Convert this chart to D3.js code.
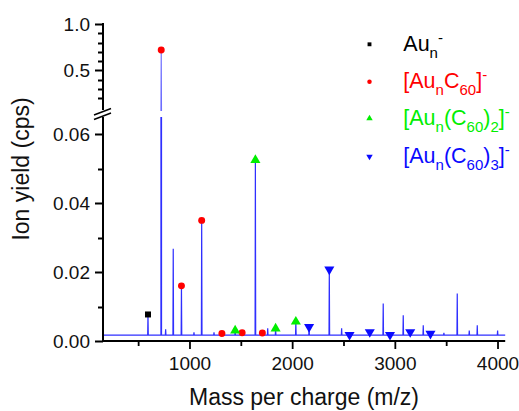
<!DOCTYPE html>
<html lang="en">
<head>
<meta charset="utf-8">
<title>Ion yield</title>
<script src="https://d3js.org/d3.v7.min.js"></script>
<style>
  body { margin: 0; background: #fff; }
  text { font-family: "Liberation Sans", Arial, sans-serif; }
</style>
</head>
<body>
<svg id="chart" width="519" height="411"></svg>
<script>
// baseline level of the spectrum (cps)
var baseline = 0.0017;

// unmarked peaks
var peakMz  = [763, 837, 1039, 1234, 1757, 2477, 2882, 3077, 3272, 3473, 3603, 3720, 3798, 3996];
var peakInt = [0.0034, 0.0268, 0.0025, 0.0025, 0.0037, 0.0037, 0.0109, 0.0075, 0.0046, 0.0024, 0.0138, 0.003, 0.0046, 0.003];

// marked series
var auMz = [591], auInt = [0.0077];
var c60Mz  = [720, 917, 1114, 1311, 1508, 1705];
var c60Int = [0.72, 0.016, 0.035, 0.0022, 0.0024, 0.0023];
var c120Mz  = [1440, 1637, 1834, 2031];
var c120Int = [0.003, 0.0525, 0.0036, 0.0056];
var c180Mz  = [2160, 2357, 2554, 2751, 2948, 3145, 3342];
var c180Int = [0.0041, 0.0208, 0.0018, 0.0026, 0.0018, 0.0026, 0.0021];

var xMajor = [1000, 2000, 3000, 4000], xMinor = [500, 1500, 2500, 3500];
var yLowMajor = [0, 0.02, 0.04, 0.06], yLowMinor = [0.01, 0.03, 0.05];
var yUpMajor = [0.5, 1.0], yUpMinor = [0.2, 0.3, 0.4, 0.6, 0.7, 0.8, 0.9];

var legendLabels = [
  [["Au", ""], ["n", "sub"], ["-", "sup"]],
  [["[Au", ""], ["n", "sub"], ["C", ""], ["60", "sub"], ["]", ""], ["-", "sup"]],
  [["[Au", ""], ["n", "sub"], ["(C", ""], ["60", "sub"], [")", ""], ["2", "sub"], ["]", ""], ["-", "sup"]],
  [["[Au", ""], ["n", "sub"], ["(C", ""], ["60", "sub"], [")", ""], ["3", "sub"], ["]", ""], ["-", "sup"]]
];

function draw() {
  var svg = d3.select("#chart");
  var lineColor = "#2f2fff";
  var axX = 103;

  var x = d3.scaleLinear().domain([150, 4070]).range([102.7, 505.2]);
  var yLow = d3.scaleLinear().domain([0, 0.065]).range([341, 117]);
  var yUp = d3.scaleLinear().domain([0.07, 1.0]).range([110.1, 24]);

  var series = [
    {mz: auMz, val: auInt, color: "#000", sym: d3.symbolSquare, rot: 0, size: 36, lsize: 15},
    {mz: c60Mz, val: c60Int, color: "#ff0000", sym: d3.symbolCircle, rot: 0, size: 38, lsize: 16},
    {mz: c120Mz, val: c120Int, color: "#00ee00", sym: d3.symbolTriangle, rot: 0, size: 44, lsize: 18},
    {mz: c180Mz, val: c180Int, color: "#0a0aff", sym: d3.symbolTriangle, rot: 180, size: 44, lsize: 18}
  ];

  // all peaks in the spectrum, sorted
  var peaks = peakMz.map(function(m, i) { return [m, peakInt[i]]; });
  series.forEach(function(s) {
    s.mz.forEach(function(m, i) { peaks.push([m, s.val[i]]); });
  });
  peaks.sort(function(a, b) { return a[0] - b[0]; });

  var pts = [[150, baseline]];
  peaks.forEach(function(p) {
    pts.push([p[0] - 3, baseline], [p[0], p[1]], [p[0] + 3, baseline]);
  });
  pts.push([4070, baseline]);

  var defs = svg.append("defs");
  defs.append("clipPath").attr("id", "clipLow")
    .append("rect").attr("x", 104).attr("y", 117).attr("width", 410).attr("height", 224);
  defs.append("clipPath").attr("id", "clipUp")
    .append("rect").attr("x", 104).attr("y", 0).attr("width", 410).attr("height", 111);

  var lineLow = d3.line().x(function(d) { return x(d[0]); }).y(function(d) { return yLow(d[1]); });
  var lineUp = d3.line().x(function(d) { return x(d[0]); }).y(function(d) { return yUp(d[1]); });

  svg.append("path").attr("d", lineLow(pts)).attr("clip-path", "url(#clipLow)")
    .attr("fill", "none").attr("stroke", lineColor).attr("stroke-width", 1.2);
  svg.append("path").attr("d", lineUp(pts)).attr("clip-path", "url(#clipUp)")
    .attr("fill", "none").attr("stroke", lineColor).attr("stroke-width", 1.1).attr("opacity", 0.7);

  // markers
  series.forEach(function(s) {
    var sym = d3.symbol().type(s.sym).size(s.size);
    s.mz.forEach(function(m, i) {
      var v = s.val[i];
      var yy = v > 0.065 ? yUp(v) : yLow(v);
      svg.append("path").attr("d", sym())
        .attr("transform", "translate(" + x(m) + "," + yy + ") rotate(" + s.rot + ")")
        .attr("fill", s.color);
    });
  });

  // axes: lines and ticks drawn from the scales
  var ax = svg.append("g").attr("stroke", "#000");
  ax.append("line").attr("x1", axX).attr("x2", 505.2).attr("y1", 341).attr("y2", 341).attr("stroke-width", 2);
  ax.append("line").attr("x1", axX).attr("x2", axX).attr("y1", 342).attr("y2", yLow(0.065)).attr("stroke-width", 2);
  ax.append("line").attr("x1", axX).attr("x2", axX).attr("y1", yUp(0.07)).attr("y2", yUp(1.0) - 1).attr("stroke-width", 2);

  function yTicks(scale, vals, len) {
    ax.selectAll(null).data(vals).enter().append("line")
      .attr("x1", axX - len).attr("x2", axX)
      .attr("y1", function(d) { return Math.round(scale(d)) + 0.5; })
      .attr("y2", function(d) { return Math.round(scale(d)) + 0.5; })
      .attr("stroke-width", 2);
  }
  yTicks(yLow, yLowMajor, 8); yTicks(yLow, yLowMinor, 5);
  yTicks(yUp, yUpMajor, 8); yTicks(yUp, yUpMinor, 5);

  function xTicks(vals, len) {
    ax.selectAll(null).data(vals).enter().append("line")
      .attr("x1", function(d) { return x(d); }).attr("x2", function(d) { return x(d); })
      .attr("y1", 341).attr("y2", 341 + len).attr("stroke-width", 1.8);
  }
  xTicks(xMajor, 8); xTicks(xMinor, 5);

  function yLabels(scale, vals, fmt) {
    svg.selectAll(null).data(vals).enter().append("text")
      .attr("x", axX - 13).attr("y", function(d) { return scale(d); }).attr("dy", "0.35em")
      .attr("text-anchor", "end").attr("font-size", 19).attr("fill", "#111")
      .text(d3.format(fmt));
  }
  yLabels(yLow, yLowMajor, ".2f");
  yLabels(yUp, yUpMajor, ".1f");

  svg.selectAll(null).data(xMajor).enter().append("text")
    .attr("x", function(d) { return x(d); }).attr("y", 370)
    .attr("text-anchor", "middle").attr("font-size", 19).attr("fill", "#111")
    .text(d3.format("d"));

  // axis break marks
  svg.append("line").attr("x1", 94).attr("y1", 115).attr("x2", 111).attr("y2", 108.5)
    .attr("stroke", "#000").attr("stroke-width", 1.4);
  svg.append("line").attr("x1", 94).attr("y1", 119.5).attr("x2", 111).attr("y2", 113)
    .attr("stroke", "#000").attr("stroke-width", 1.4);

  // titles
  svg.append("text").attr("transform", "translate(29,169) rotate(-90)")
    .attr("text-anchor", "middle").attr("font-size", 23).attr("fill", "#111")
    .text("Ion yield (cps)");
  svg.append("text").attr("x", 304).attr("y", 405)
    .attr("text-anchor", "middle").attr("font-size", 23).attr("fill", "#111")
    .text("Mass per charge (m/z)");

  // legend
  var rowY = [44.3, 81.7, 118.5, 156.5];
  series.forEach(function(s, i) {
    var sym = d3.symbol().type(s.sym).size(s.lsize);
    svg.append("path").attr("d", sym())
      .attr("transform", "translate(369.5," + rowY[i] + ") rotate(" + s.rot + ")")
      .attr("fill", s.color);
    var t = svg.append("text").attr("x", 403.3).attr("y", rowY[i] + 6.6)
      .attr("font-size", 21.5).attr("fill", s.color);
    var shift = 0;
    legendLabels[i].forEach(function(part) {
      var target = part[1] === "sub" ? 7 : part[1] === "sup" ? -8 : 0;
      var ts = t.append("tspan").attr("dy", target - shift).text(part[0]);
      if (part[1]) ts.attr("font-size", 15);
      shift = target;
    });
  });
}
draw();
</script>
</body>
</html>
